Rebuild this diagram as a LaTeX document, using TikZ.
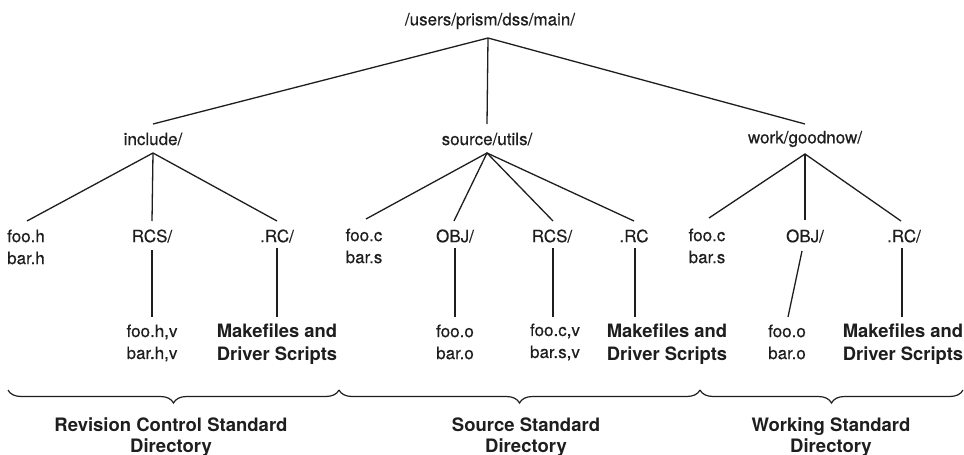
\documentclass[tikz,border=0pt]{standalone}
\usepackage{fontspec}
\setmainfont{TeX Gyre Heros}
\newfontfamily\medfont[FakeBold=0.35]{TeX Gyre Heros}
\usetikzlibrary{decorations.pathreplacing}
\definecolor{ink}{HTML}{1E1E1E}
\begin{document}
\begin{tikzpicture}[x=1pt,y=-1pt,
  lbl/.style={inner sep=0pt, font=\medfont\fontsize{17}{22}\selectfont, text=ink, align=center},
  lbll/.style={lbl, align=left, anchor=west},
  bigtxt/.style={inner sep=0pt, font=\bfseries\fontsize{18.4}{23}\selectfont, text=ink, align=center},
  captxt/.style={inner sep=0pt, font=\bfseries\fontsize{18.5}{20.5}\selectfont, text=ink, align=center},
  link/.style={draw=ink, line width=1.3pt},
  brc/.style={draw=ink, line width=1.2pt, decorate, decoration={brace, mirror, amplitude=13pt}}]
\fill[white] (0,0) rectangle (964,455);
\useasboundingbox (0,0) rectangle (964,455);

% root
\node[lbl] (root) at (490,21) {/users/prism/dss/main/};
\coordinate (rj) at (488,38);

% level 1
\node[lbl] (inc) at (153,139) {include/};
\node[lbl] (src) at (487,139) {source/utils/};
\node[lbl] (wrk) at (805,139) {work/goodnow/};
\coordinate (incT) at (153,124); \coordinate (incJ) at (153,153);
\coordinate (srcT) at (487,124); \coordinate (srcJ) at (487,153);
\coordinate (wrkT) at (805,124); \coordinate (wrkJ) at (805,154);
\draw[link] (incT) -- (rj) -- (wrkT);
\draw[link] (rj) -- (srcT);

% include children
\node[lbll] (incA) at (7,247) {foo.h\\bar.h};
\node[lbl] (incB) at (152,236) {RCS/};
\node[lbl] (incC) at (277,236) {.RC/};
\coordinate (incAT) at (27,221);
\coordinate (incBT) at (152,221); \coordinate (incBB) at (152,250);
\coordinate (incCT) at (277,221); \coordinate (incCB) at (277,248);
\draw[link] (incAT) -- (incJ) -- (incCT);
\draw[link] (incJ) -- (incBT);
\node[lbl] (incBv) at (152,343) {foo.h,v\\bar.h,v};
\node[bigtxt] (incCm) at (277,344.5) {Makefiles and\\Driver Scripts};
\coordinate (incBvT) at (152,317);
\coordinate (incCmT) at (277,317);
\draw[link] (incBB) -- (incBvT);
\draw[link] (incCB) -- (incCmT);

% source children
\node[lbl] (srcA) at (364,246) {foo.c\\bar.s};
\node[lbl] (srcB) at (455,236) {OBJ/};
\node[lbl] (srcC) at (552,236) {RCS/};
\node[lbl] (srcD) at (634,236) {.RC};
\coordinate (srcAT) at (366,219);
\coordinate (srcBT) at (454,221); \coordinate (srcBB) at (455,248);
\coordinate (srcCT) at (553,221); \coordinate (srcCB) at (553,248);
\coordinate (srcDT) at (634,221); \coordinate (srcDB) at (635,248);
\draw[link] (srcAT) -- (srcJ) -- (srcDT);
\draw[link] (srcBT) -- (srcJ) -- (srcCT);
\node[lbl] (srcBo) at (455,342) {foo.o\\bar.o};
\node[lbl] (srcCv) at (555,342) {foo.c,v\\bar.s,v};
\node[bigtxt] (srcDm) at (667,344.5) {Makefiles and\\Driver Scripts};
\coordinate (srcBoT) at (455,317);
\coordinate (srcCvT) at (553,317);
\coordinate (srcDmT) at (635,317);
\draw[link] (srcBB) -- (srcBoT);
\draw[link] (srcCB) -- (srcCvT);
\draw[link] (srcDB) -- (srcDmT);

% work children
\node[lbl] (wrkA) at (707,246) {foo.c\\bar.s};
\node[lbl] (wrkB) at (805,236) {OBJ/};
\node[lbl] (wrkC) at (904,236) {.RC/};
\coordinate (wrkAT) at (709,218);
\coordinate (wrkBT) at (805,220); \coordinate (wrkBB) at (802,251);
\coordinate (wrkCT) at (901,221); \coordinate (wrkCB) at (902,248);
\draw[link] (wrkAT) -- (wrkJ) -- (wrkCT);
\draw[link] (wrkJ) -- (wrkBT);
\node[lbl] (wrkBo) at (787,342) {foo.o\\bar.o};
\node[bigtxt] (wrkCm) at (903,344.5) {Makefiles and\\Driver Scripts};
\coordinate (wrkBoT) at (788,317);
\coordinate (wrkCmT) at (902,317);
\draw[link] (wrkBB) -- (wrkBoT);
\draw[link] (wrkCB) -- (wrkCmT);

% braces
\coordinate (b0) at (8,390);
\coordinate (b1) at (339,390);
\coordinate (b2) at (700,390);
\coordinate (b3) at (963,390);
\draw[brc] (b0) -- (b1);
\draw[brc] (b1) -- (b2);
\draw[brc] (b2) -- (b3);
\node[captxt] (cap1) at (171,437) {Revision Control Standard\\Directory};
\node[captxt] (cap2) at (526,437) {Source Standard\\Directory};
\node[captxt] (cap3) at (831,437) {Working Standard\\Directory};
\end{tikzpicture}
\end{document}
